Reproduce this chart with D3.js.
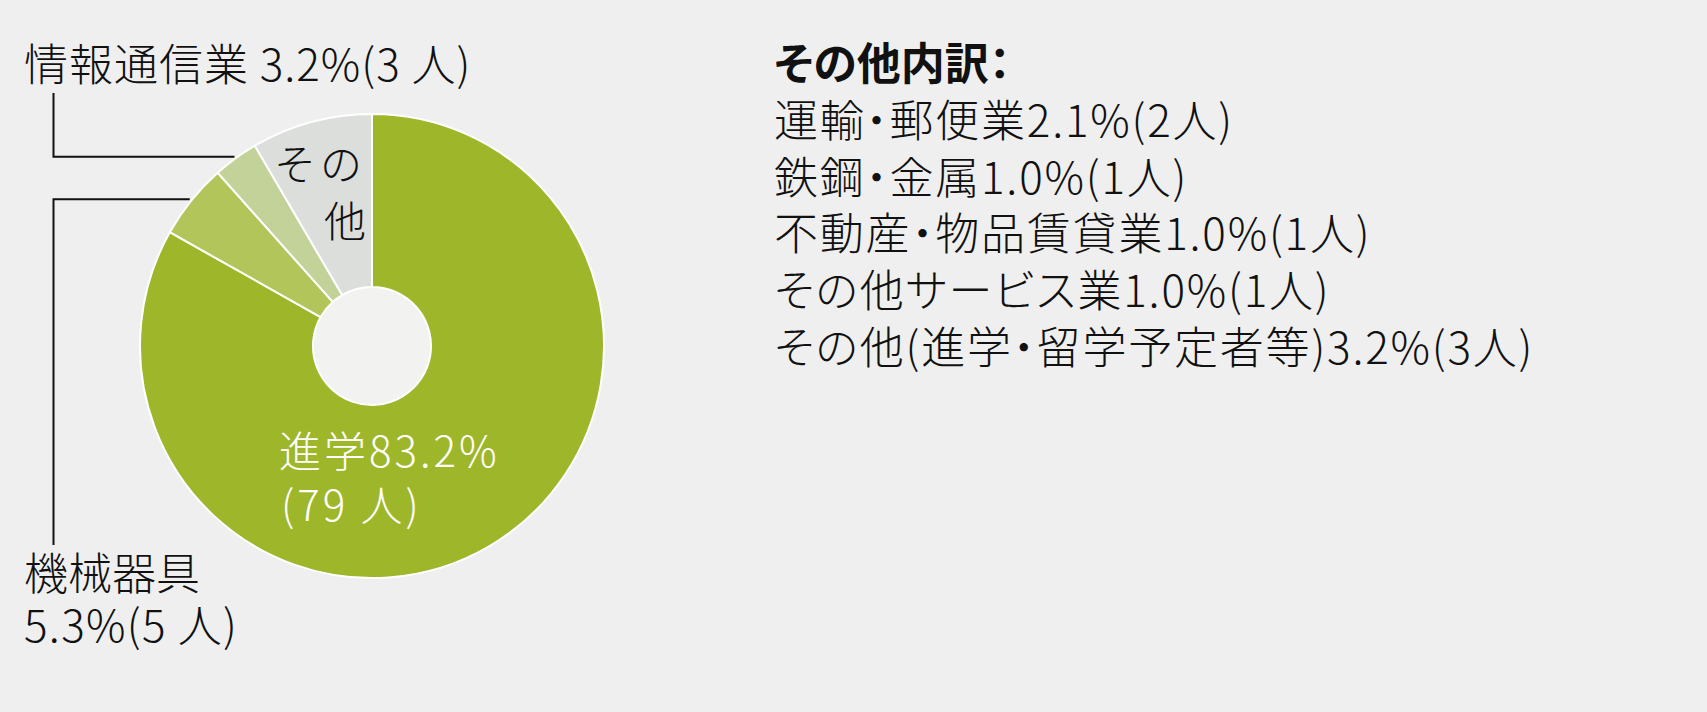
<!DOCTYPE html>
<html lang="ja">
<head>
<meta charset="utf-8">
<script src="https://cdn.jsdelivr.net/npm/d3@7"></script>
<style>
  html, body { margin: 0; padding: 0; background: #efefef; }
  svg { display: block; }
  text { font-family: "Noto Sans CJK JP", "Noto Sans", sans-serif; }
</style>
</head>
<body>
<svg id="chart" width="1707" height="712"></svg>
<script>
// ---- data ----
const categories = ["進学", "機械器具", "情報通信業", "その他"];
const counts = [79, 5, 3, 8];
const percents = [83.2, 5.3, 3.2, 8.4];
const sliceColors = ["#9eb62a", "#b2c55a", "#c3d299", "#dcdedc"];

const breakdownTitle = "その他内訳：";
const breakdownItems = ["運輸・郵便業", "鉄鋼・金属", "不動産・物品賃貸業", "その他サービス業", "その他(進学・留学予定者等)"];
const breakdownPct = [2.1, 1.0, 1.0, 1.0, 3.2];
const breakdownCount = [2, 1, 1, 1, 3];

// ---- layout ----
const W = 1707, H = 712;
const cx = 372, cy = 346, outerR = 232, innerR = 59;

const svg = d3.select("#chart");
svg.append("rect").attr("width", W).attr("height", H).attr("fill", "#efefef");

const data = categories.map((c, i) => ({ name: c, count: counts[i], pct: percents[i], color: sliceColors[i] }));

const pie = d3.pie().value(d => d.count).sort(null).startAngle(0).endAngle(2 * Math.PI);
const arcs = pie(data);
const arc = d3.arc().innerRadius(innerR).outerRadius(outerR);

const g = svg.append("g").attr("transform", `translate(${cx},${cy})`);
g.append("circle").attr("r", innerR).attr("fill", "#f2f2f0");
g.selectAll("path.slice").data(arcs).join("path")
  .attr("class", "slice")
  .attr("d", arc)
  .attr("fill", d => d.data.color)
  .attr("stroke", "#ffffff")
  .attr("stroke-width", 2)
  .attr("stroke-linejoin", "round");

// leader lines for small slices
function edgePoint(a) {
  const mid = (a.startAngle + a.endAngle) / 2;
  const r = outerR + 2;
  return [cx + r * Math.sin(mid), cy - r * Math.cos(mid)];
}
const leaderX = 53.5;
const pInfo = edgePoint(arcs[2]);
const pMach = edgePoint(arcs[1]);
const lineG = svg.append("g").attr("fill", "none").attr("stroke", "#111").attr("stroke-width", 2);
lineG.append("path").attr("d", `M${leaderX},93 V${pInfo[1]} H${pInfo[0]}`);
lineG.append("path").attr("d", `M${leaderX},545 V${pMach[1]} H${pMach[0]}`);

// labels
const lbl = svg.append("g").attr("font-weight", 300).attr("fill", "#111");
lbl.append("text").attr("x", 24).attr("y", 81).attr("font-size", 44).attr("letter-spacing", 1)
  .text(`${categories[2]} ${percents[2].toFixed(1)}%(${counts[2]} 人)`);
lbl.append("text").attr("x", 24).attr("y", 590).attr("font-size", 44)
  .text(categories[1]);
lbl.append("text").attr("x", 24).attr("y", 642).attr("font-size", 44).attr("letter-spacing", 1.3)
  .text(`${percents[1].toFixed(1)}%(${counts[1]} 人)`);

// inside labels
const inG = svg.append("g").attr("font-weight", 300);
inG.append("text").attr("x", 279).attr("y", 467).attr("font-size", 42).attr("fill", "#ffffff")
  .attr("letter-spacing", 3)
  .text(`${categories[0]}${percents[0].toFixed(1)}%`);
inG.append("text").attr("x", 281).attr("y", 521).attr("font-size", 42).attr("fill", "#ffffff")
  .attr("letter-spacing", 3)
  .text(`(${counts[0]} 人)`);
inG.append("text").attr("x", 366).attr("y", 180).attr("font-size", 42).attr("fill", "#111")
  .attr("text-anchor", "end").attr("letter-spacing", 4).text(categories[3].slice(0, 2));
inG.append("text").attr("x", 366).attr("y", 237).attr("font-size", 42).attr("fill", "#111")
  .attr("text-anchor", "end").text(categories[3].slice(2));

// breakdown list
const bl = svg.append("g").attr("fill", "#111").style("font-feature-settings", "'palt'");
bl.append("text").attr("x", 774).attr("y", 80).attr("font-size", 44).attr("font-weight", 700)
  .text(breakdownTitle);
bl.selectAll("text.item").data(breakdownItems).join("text")
  .attr("class", "item")
  .attr("x", 774)
  .attr("y", (d, i) => 137 + i * 56.7)
  .attr("font-size", 44)
  .attr("font-weight", 300)
  .attr("letter-spacing", 1.8)
  .text((d, i) => `${d}${breakdownPct[i].toFixed(1)}%(${breakdownCount[i]}人)`);
</script>
</body>
</html>
